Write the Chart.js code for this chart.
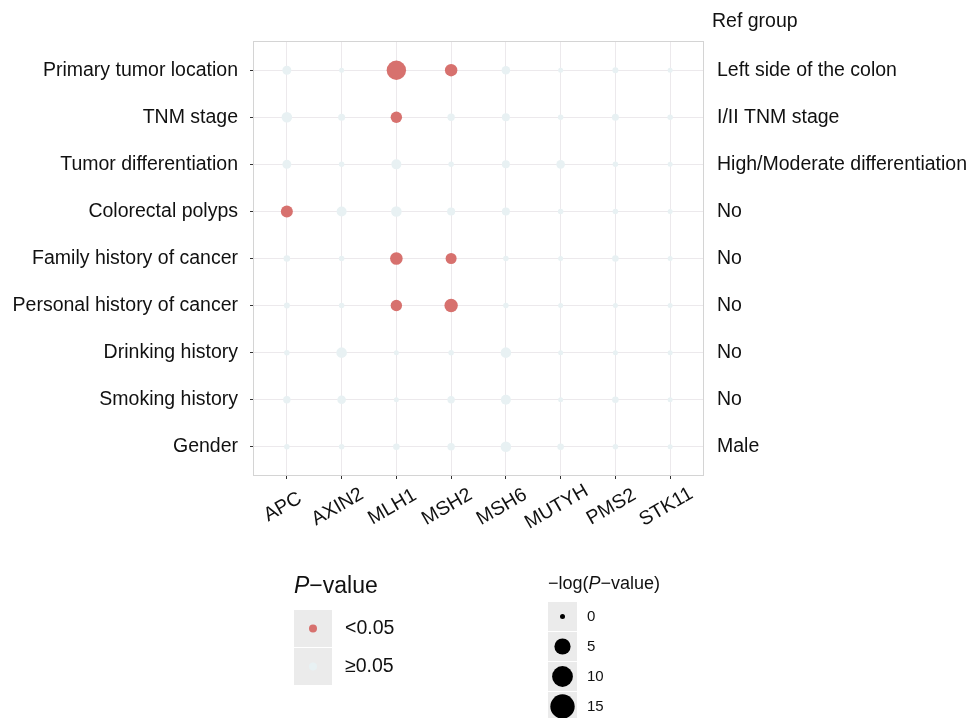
<!DOCTYPE html>
<html>
<head>
<meta charset="utf-8">
<script src="https://cdn.jsdelivr.net/npm/chart.js@4"></script>
<style>
  html, body { margin: 0; padding: 0; background: #fff; }
  canvas { display: block; }
</style>
</head>
<body>
<canvas id="myChart" width="971" height="718"></canvas>
<script>
// genes on the x axis, clinical factors on the y axis
const genes = ['APC', 'AXIN2', 'MLH1', 'MSH2', 'MSH6', 'MUTYH', 'PMS2', 'STK11'];
const factors = ['Primary tumor location', 'TNM stage', 'Tumor differentiation', 'Colorectal polyps',
  'Family history of cancer', 'Personal history of cancer', 'Drinking history', 'Smoking history', 'Gender'];
const refGroups = ['Left side of the colon', 'I/II TNM stage', 'High/Moderate differentiation', 'No',
  'No', 'No', 'No', 'No', 'Male'];

// -log(P-value), one array per factor, in gene order
const primaryTumor    = [0.64, 0.00, 8.29, 2.19, 0.52, 0.00, 0.04, 0.00];
const tnmStage        = [1.25, 0.16, 1.64, 0.23, 0.36, 0.01, 0.16, 0.01];
const differentiation = [0.64, 0.01, 1.00, 0.01, 0.36, 0.52, 0.01, 0.00];
const polyps          = [1.96, 1.00, 1.25, 0.36, 0.36, 0.01, 0.01, 0.00];
const familyHistory   = [0.10, 0.01, 2.31, 1.44, 0.01, 0.00, 0.10, 0.00];
const personalHistory = [0.04, 0.01, 1.64, 2.82, 0.01, 0.00, 0.00, 0.00];
const drinking        = [0.01, 1.25, 0.00, 0.01, 1.25, 0.00, 0.00, 0.00];
const smoking         = [0.23, 0.52, 0.00, 0.23, 1.00, 0.00, 0.10, 0.00];
const gender          = [0.01, 0.01, 0.10, 0.23, 1.25, 0.10, 0.01, 0.00];
const logP = [primaryTumor, tnmStage, differentiation, polyps, familyHistory,
  personalHistory, drinking, smoking, gender];

const sizeBreaks = [0, 5, 10, 15];
const cutoff = -Math.log10(0.05);

const RED = '#d7716e';
const PALE = '#e8f1f3';
const FONT = '"Liberation Sans", Arial, sans-serif';

// bubble radius from -log(P)
const sizeOf = v => 2.5 + 2.5 * Math.sqrt(v);

const sig = [], nonSig = [];
logP.forEach((row, i) => {
  row.forEach((v, j) => {
    const pt = { x: j, y: i, r: sizeOf(v) };
    (v >= cutoff ? sig : nonSig).push(pt);
  });
});

const panelAndLegends = {
  id: 'panelAndLegends',
  beforeDatasetsDraw(chart) {
    const { ctx, chartArea: a } = chart;
    ctx.save();
    ctx.strokeStyle = '#d4d4d4';
    ctx.lineWidth = 1;
    ctx.strokeRect(Math.round(a.left) - 0.5, Math.round(a.top) - 0.5,
      Math.round(a.right - a.left) + 1, Math.round(a.bottom - a.top) + 1);
    ctx.restore();
  },
  afterDraw(chart) {
    const ctx = chart.ctx;
    const xs = chart.scales.x;
    ctx.save();
    ctx.fillStyle = '#111';

    // rotated gene labels, centred under their ticks
    ctx.font = '19.5px ' + FONT;
    ctx.textAlign = 'center';
    ctx.textBaseline = 'middle';
    genes.forEach((g, i) => {
      ctx.save();
      ctx.translate(xs.getPixelForValue(i) - 4, xs.top + 32);
      ctx.rotate(-Math.PI / 6);
      ctx.fillText(g, 0, 0);
      ctx.restore();
    });

    ctx.textBaseline = 'alphabetic';
    ctx.textAlign = 'left';

    // header over the right labels
    ctx.font = '19.5px ' + FONT;
    ctx.fillText('Ref group', 712, 27);

    // P-value colour legend
    ctx.font = 'italic 23px ' + FONT;
    ctx.fillText('P', 294, 593);
    let w = ctx.measureText('P').width;
    ctx.font = '23px ' + FONT;
    ctx.fillText('\u2212value', 294 + w, 593);

    const keys = [{ c: RED, t: '<0.05' }, { c: PALE, t: '\u22650.05' }];
    keys.forEach((k, i) => {
      const y0 = 610 + i * 38;
      ctx.fillStyle = '#ebebeb';
      ctx.fillRect(294, y0, 38, 37);
      ctx.fillStyle = k.c;
      ctx.beginPath();
      ctx.arc(313, y0 + 18.5, 4, 0, Math.PI * 2);
      ctx.fill();
      ctx.fillStyle = '#111';
      ctx.font = '19.5px ' + FONT;
      ctx.textBaseline = 'middle';
      ctx.fillText(k.t, 345, y0 + 19);
      ctx.textBaseline = 'alphabetic';
    });

    // size legend
    ctx.font = '18px ' + FONT;
    ctx.fillText('\u2212log(', 548, 589);
    w = ctx.measureText('\u2212log(').width;
    ctx.font = 'italic 18px ' + FONT;
    ctx.fillText('P', 548 + w, 589);
    w += ctx.measureText('P').width;
    ctx.font = '18px ' + FONT;
    ctx.fillText('\u2212value)', 548 + w, 589);

    sizeBreaks.forEach((b, i) => {
      const y0 = 602 + i * 30;
      ctx.fillStyle = '#ebebeb';
      ctx.fillRect(548, y0, 29, 29);
    });
    sizeBreaks.forEach((b, i) => {
      const y0 = 602 + i * 30;
      ctx.fillStyle = '#000';
      ctx.beginPath();
      ctx.arc(562.5, y0 + 14.5, sizeOf(b), 0, Math.PI * 2);
      ctx.fill();
      ctx.fillStyle = '#111';
      ctx.font = '15px ' + FONT;
      ctx.textBaseline = 'middle';
      ctx.fillText(String(b), 587, y0 + 15);
      ctx.textBaseline = 'alphabetic';
    });
    ctx.restore();
  }
};

const gridOpts = {
  color: '#ece9ec',
  lineWidth: 1,
  tickColor: '#333',
  tickLength: 4
};

const ctx = document.getElementById('myChart').getContext('2d');

const myChart = new Chart(ctx, {
  type: 'bubble',
  data: {
    datasets: [
      { label: '>=0.05', data: nonSig, backgroundColor: PALE, borderWidth: 0 },
      { label: '<0.05', data: sig, backgroundColor: RED, borderWidth: 0 }
    ]
  },
  options: {
    responsive: false,
    animation: false,
    events: [],
    layout: { padding: { top: 42, left: 0, right: 0, bottom: 0 } },
    plugins: {
      legend: { display: false },
      tooltip: { enabled: false }
    },
    scales: {
      x: {
        type: 'linear',
        min: -0.6,
        max: genes.length - 1 + 0.6,
        afterBuildTicks: s => { s.ticks = genes.map((g, i) => ({ value: i })); },
        afterFit: s => { s.height = 243; },
        grid: gridOpts,
        border: { display: false },
        ticks: { display: false }
      },
      y: {
        type: 'linear',
        reverse: true,
        min: -0.6,
        max: factors.length - 1 + 0.6,
        afterBuildTicks: s => { s.ticks = factors.map((f, i) => ({ value: i })); },
        afterFit: s => { s.width = 254; },
        grid: gridOpts,
        border: { display: false },
        ticks: {
          callback: v => factors[v],
          color: '#111',
          font: { family: FONT, size: 19.5 },
          padding: 12
        }
      },
      y2: {
        type: 'linear',
        position: 'right',
        reverse: true,
        min: -0.6,
        max: refGroups.length - 1 + 0.6,
        afterBuildTicks: s => { s.ticks = refGroups.map((f, i) => ({ value: i })); },
        afterFit: s => { s.width = 268; },
        grid: { drawOnChartArea: false, drawTicks: false },
        border: { display: false },
        ticks: {
          callback: v => refGroups[v],
          color: '#111',
          font: { family: FONT, size: 19.5 },
          padding: 14
        }
      }
    }
  },
  plugins: [panelAndLegends]
});
</script>
</body>
</html>
